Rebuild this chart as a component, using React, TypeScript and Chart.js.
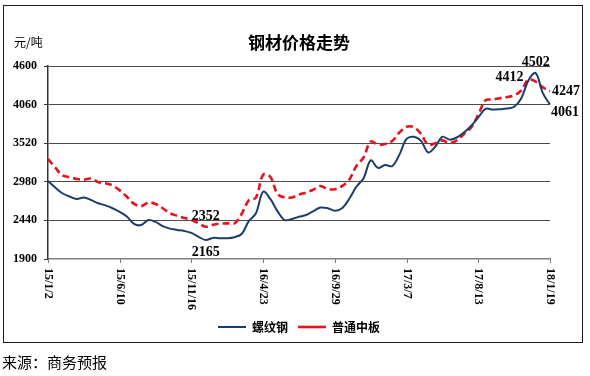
import React, { useEffect, useRef } from "react";
import { Chart, registerables } from "chart.js";

Chart.register(...registerables);

const chartTitle = "钢材价格走势";
const unitLabel = "元/吨";
const sourceNote = "来源：商务预报";
const seriesNames = ["螺纹钢", "普通中板"];
const tickLabels = ["15/1/2", "15/6/10", "15/11/16", "16/4/23", "16/9/29", "17/3/7", "17/8/13", "18/1/19"];
const pointsPerTick = 10;
const yTicks = [1900, 2440, 2980, 3520, 4060, 4600];

const rebarPrices = [
  2990, 2900, 2820, 2775, 2740, 2760, 2725, 2680, 2650, 2610,
  2560, 2495, 2390, 2375, 2445, 2420, 2360, 2325, 2307, 2292,
  2265, 2210, 2165, 2195, 2190, 2190, 2205, 2250, 2430, 2540,
  2842, 2740, 2570, 2445, 2460, 2490, 2515, 2570, 2620, 2610,
  2575, 2610, 2740, 2910, 3030, 3280, 3175, 3215, 3200, 3360,
  3580, 3610, 3555, 3390, 3470, 3610, 3570, 3600, 3670, 3760,
  3880, 4000, 3990, 3995, 4005, 4030, 4150, 4400, 4502, 4220,
  4061,
];

const platePrices = [
  3300, 3180, 3070, 3045, 3020, 3010, 3025, 2975, 2960, 2930,
  2860, 2770, 2670, 2640, 2690, 2670, 2610, 2540, 2505, 2475,
  2445, 2400, 2352, 2380, 2395, 2399, 2399, 2530, 2720, 2760,
  3080, 3050, 2810, 2760, 2760, 2800, 2830, 2870, 2920, 2880,
  2875, 2920, 3010, 3200, 3320, 3545, 3500, 3510, 3550, 3670,
  3750, 3745, 3650, 3500, 3520, 3560, 3520, 3560, 3650, 3740,
  3920, 4120, 4130, 4150, 4165, 4190, 4260, 4412, 4380, 4300,
  4247,
];

// callouts: which series, which point, shown text
const calloutSeries = [0, 1, 1, 0, 1, 0];
const calloutIndex = [68, 67, 70, 70, 22, 22];
const calloutText = ["4502", "4412", "4247", "4061", "2352", "2165"];
const calloutPlace = ["above", "left", "right", "rightBelow", "above", "below"];

const categories = rebarPrices.map((_, i) =>
  i % pointsPerTick === 0 ? tickLabels[i / pointsPerTick] : ""
);

const BLUE = "#1f3d6b";
const RED = "#e8121c";
const SERIF = '"Liberation Serif", "Times New Roman", serif';
const CJK = '"Noto Sans CJK SC", "Noto Sans", sans-serif';

const decorPlugin = {
  id: "decor",
  afterDraw(chart: any) {
    const ctx = chart.ctx;
    const xs = chart.scales.x;
    const area = chart.chartArea;
    ctx.save();
    // unit label
    ctx.font = `12px ${CJK}`;
    ctx.fillStyle = "#000";
    ctx.textAlign = "left";
    ctx.textBaseline = "middle";
    ctx.fillText(unitLabel, 14, 42);

    // x tick marks and rotated labels
    ctx.strokeStyle = "#808080";
    ctx.lineWidth = 1;
    ctx.font = `bold 12px ${SERIF}`;
    tickLabels.forEach((t, k) => {
      const x = Math.round(xs.getPixelForValue(k * pointsPerTick)) + 0.5;
      ctx.beginPath();
      ctx.moveTo(x, area.bottom);
      ctx.lineTo(x, area.bottom + 4);
      ctx.stroke();
      ctx.save();
      ctx.translate(x, area.bottom + 9);
      ctx.rotate(Math.PI / 2);
      ctx.textAlign = "left";
      ctx.textBaseline = "middle";
      ctx.fillStyle = "#000";
      ctx.fillText(t, 0, 0);
      ctx.restore();
    });

    // callouts
    ctx.font = `bold 14px ${SERIF}`;
    ctx.fillStyle = "#000";
    ctx.textBaseline = "alphabetic";
    calloutText.forEach((txt, i) => {
      const meta = chart.getDatasetMeta(calloutSeries[i]);
      const pt = meta.data[calloutIndex[i]];
      if (!pt) return;
      const place = calloutPlace[i];
      let x = pt.x, y = pt.y;
      if (place === "above") { ctx.textAlign = "center"; y -= 7; }
      else if (place === "below") { ctx.textAlign = "center"; y += 16; }
      else if (place === "left") { ctx.textAlign = "right"; x -= 5; y += 2; }
      else if (place === "right") { ctx.textAlign = "left"; x += 2; y += 4; }
      else { ctx.textAlign = "left"; x += 1; y += 11; }
      ctx.fillText(txt, x, y);
    });
    ctx.restore();
  },
};

export default function App() {
  const canvasRef = useRef<HTMLCanvasElement | null>(null);

  useEffect(() => {
    if (!canvasRef.current) return;
    const chart = new Chart(canvasRef.current, {
      type: "line",
      data: {
        labels: categories,
        datasets: [
          {
            label: seriesNames[0],
            data: rebarPrices,
            borderColor: BLUE,
            backgroundColor: BLUE,
            borderWidth: 2,
            pointRadius: 0,
            tension: 0.35,
            fill: false,
          },
          {
            label: seriesNames[1],
            data: platePrices,
            borderColor: RED,
            backgroundColor: RED,
            borderWidth: 2.6,
            borderDash: [7, 4],
            pointRadius: 0,
            tension: 0.35,
            fill: false,
          },
        ],
      },
      options: {
        responsive: false,
        animation: false,
        devicePixelRatio: 1,
        layout: { padding: { left: 8, right: 40, top: 0, bottom: 33 } },
        plugins: {
          title: {
            display: true,
            text: chartTitle,
            fullSize: false,
            color: "#000",
            font: { family: CJK, weight: "bold", size: 17 },
            padding: { top: 32, bottom: 13.6 },
          },
          legend: {
            display: true,
            position: "bottom",
            fullSize: false,
            labels: {
              usePointStyle: true,
              pointStyle: "line",
              pointStyleWidth: 28,
              boxHeight: 12,
              padding: 10,
              color: "#000",
              font: { family: CJK, weight: "bold", size: 12 },
            },
          },
          tooltip: { enabled: false },
        },
        scales: {
          x: {
            type: "category",
            offset: false,
            grid: { display: false },
            ticks: { display: false },
            border: { display: true, color: "#808080", width: 1.5 },
            afterFit: (scale: any) => { scale.height = 52; },
          },
          y: {
            min: 1900,
            max: 4600,
            afterBuildTicks: (scale: any) => { scale.ticks = yTicks.map((v) => ({ value: v })); },
            ticks: {
              color: "#000",
              padding: 7,
              font: { family: SERIF, weight: "bold", size: 12 },
              callback: (v: any) => String(v),
            },
            grid: {
              color: (c: any) => (c.tick && c.tick.value === 1900 ? "rgba(0,0,0,0)" : "#4a4a4a"),
              lineWidth: 1,
              borderDash: [4, 3],
              drawTicks: true,
              tickLength: 4,
              tickColor: "#333",
              tickBorderDash: [],
            },
            border: { display: true, color: "#333", width: 1.5, dash: [] },
            afterFit: (scale: any) => { scale.width = 40; },
          },
        },
      },
      plugins: [decorPlugin],
    });
    return () => chart.destroy();
  }, []);

  return (
    <div style={{ position: "absolute", left: 0, top: 0, width: 590, height: 376, background: "#fff" }}>
      <div
        style={{
          position: "absolute",
          left: 3,
          top: 5,
          width: 580,
          height: 338,
          boxSizing: "border-box",
          border: "1.5px solid #1a1a1a",
        }}
      />
      <canvas
        ref={canvasRef}
        width={590}
        height={376}
        style={{ position: "absolute", left: 0, top: 0, width: 590, height: 376 }}
      />
      <div
        style={{
          position: "absolute",
          left: 2,
          top: 352,
          fontFamily: CJK,
          fontSize: 15,
          lineHeight: "20px",
          color: "#000",
          whiteSpace: "nowrap",
        }}
      >
        {sourceNote}
      </div>
    </div>
  );
}
